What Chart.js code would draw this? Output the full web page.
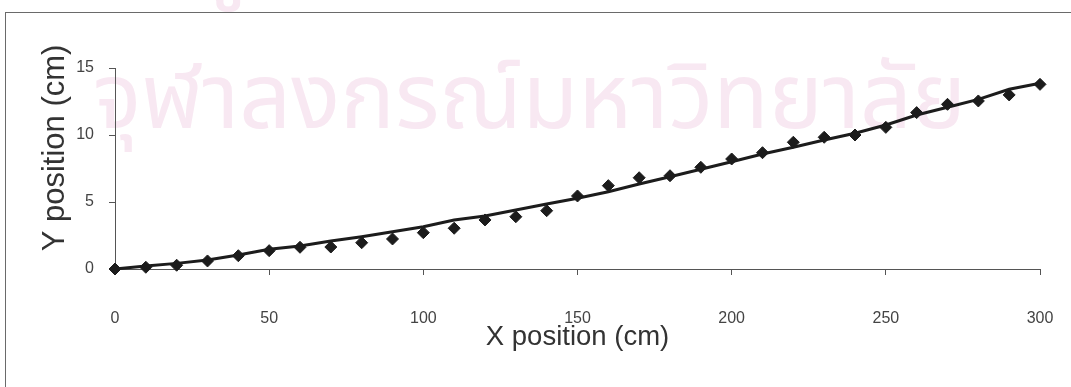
<!DOCTYPE html>
<html><head><meta charset="utf-8">
<style>html,body{margin:0;padding:0;background:#fff;}#wrap{width:1071px;height:387px;position:relative;}</style>
<script src="https://cdn.jsdelivr.net/npm/chart.js@4.4.1/dist/chart.umd.min.js"></script>
</head><body><div id="wrap"><canvas id="c" width="1071" height="387"></canvas></div>
<script>
const xValues = [0,10,20,30,40,50,60,70,80,90,100,110,120,130,140,150,160,170,180,190,200,210,220,230,240,250,260,270,280,290,300];
const yMeasured = [0,0.13,0.28,0.6,0.99,1.37,1.62,1.64,1.96,2.24,2.71,3.04,3.66,3.9,4.35,5.45,6.22,6.81,6.96,7.59,8.21,8.68,9.46,9.83,10.0,10.57,11.67,12.29,12.54,12.99,13.78];
const yModel = [0,0.22,0.42,0.67,1.04,1.47,1.72,2.09,2.41,2.78,3.16,3.66,3.96,4.4,4.85,5.28,5.77,6.34,6.89,7.44,8.0,8.58,9.08,9.63,10.13,10.75,11.49,12.07,12.66,13.41,13.86];
const xTicks = [0,50,100,150,200,250,300];
const yTicks = [0,5,10,15];
const xTitle = 'X position (cm)';
const yTitle = 'Y position (cm)';
const watermarkLines = ['ศูนย์วิทยทรัพยากร','จุฬาลงกรณ์มหาวิทยาลัย'];

const frameAndWatermark = {
  id: 'frameAndWatermark',
  beforeDraw(chart) {
    const ctx = chart.ctx;
    ctx.save();
    ctx.fillStyle = 'rgb(248,232,242)';
    ctx.textAlign = 'left';
    ctx.textBaseline = 'alphabetic';
    ctx.font = '100px "Noto Sans Thai", Loma, Garuda, "DejaVu Sans", sans-serif';
    const w = ctx.measureText(watermarkLines[1]).width;
    const size = 100 * 873 / w;
    ctx.font = size.toFixed(1) + 'px "Noto Sans Thai", Loma, Garuda, "DejaVu Sans", sans-serif';
    ctx.fillText(watermarkLines[1], 93, 128);
    const w0 = ctx.measureText(watermarkLines[0]).width;
    ctx.fillText(watermarkLines[0], 530 - w0 / 2, -12);
    ctx.restore();
  },
  afterDraw(chart) {
    const ctx = chart.ctx;
    ctx.save();
    ctx.strokeStyle = '#6a6a6a';
    ctx.lineWidth = 1;
    ctx.strokeRect(5.5, 12.5, 1200, 600);
    ctx.fillStyle = '#333';
    ctx.font = '31px "Liberation Sans", Arial, sans-serif';
    ctx.textAlign = 'center';
    ctx.textBaseline = 'middle';
    ctx.translate(55, 148);
    ctx.rotate(-Math.PI / 2);
    ctx.fillText(yTitle, 0, 0);
    ctx.restore();
  }
};

new Chart(document.getElementById('c'), {
  type: 'scatter',
  data: {
    datasets: [
      {
        label: 'measured',
        data: xValues.map((x, i) => ({x: x, y: yMeasured[i]})),
        pointStyle: 'rectRot',
        pointRadius: 6,
        pointBackgroundColor: '#1c1c1c',
        pointBorderColor: '#1c1c1c',
        pointBorderWidth: 1,
        showLine: false,
        clip: false
      },
      {
        label: 'model',
        data: xValues.map((x, i) => ({x: x, y: yModel[i]})),
        showLine: true,
        pointRadius: 0,
        borderColor: '#1c1c1c',
        borderWidth: 3,
        tension: 0,
        clip: false
      }
    ]
  },
  options: {
    responsive: false,
    animation: false,
    devicePixelRatio: 1,
    layout: {padding: {top: 68, right: 31, left: 0, bottom: 0}},
    plugins: {legend: {display: false}, tooltip: {enabled: false}},
    scales: {
      x: {
        type: 'linear', min: 0, max: 300,
        afterBuildTicks: s => { s.ticks = xTicks.map(v => ({value: v})); },
        afterFit: s => { s.height = 118; s.paddingLeft = 0; s.paddingRight = 0; },
        grid: {drawOnChartArea: false, drawTicks: true, tickLength: 6, color: '#555', lineWidth: 1},
        border: {display: true, color: '#555', width: 1},
        ticks: {padding: 34, color: '#444', font: {family: '"Liberation Sans", Arial, sans-serif', size: 16}, maxRotation: 0},
        title: {display: true, text: xTitle, color: '#333', font: {family: '"Liberation Sans", Arial, sans-serif', size: 27.5}, padding: {top: 0, bottom: 33}}
      },
      y: {
        type: 'linear', min: 0, max: 15,
        afterBuildTicks: s => { s.ticks = yTicks.map(v => ({value: v})); },
        afterFit: s => { s.width = 115; s.paddingTop = 0; s.paddingBottom = 0; },
        grid: {drawOnChartArea: false, drawTicks: true, tickLength: 6, color: '#555', lineWidth: 1},
        border: {display: true, color: '#555', width: 1},
        ticks: {padding: 15, color: '#444', font: {family: '"Liberation Sans", Arial, sans-serif', size: 16}},
        title: {display: false}
      }
    }
  },
  plugins: [frameAndWatermark]
});
</script>
</body></html>
